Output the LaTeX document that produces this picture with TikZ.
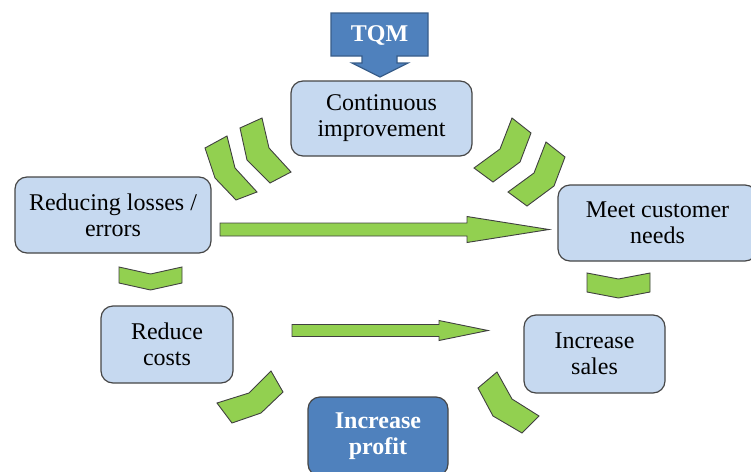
\documentclass[tikz,border=0pt]{standalone}
\usepackage{fontspec}
\setmainfont{LiberationSerif}[BoldFont=LiberationSerif-Bold]
\definecolor{boxfill}{RGB}{198,217,240}
\definecolor{boxline}{RGB}{70,70,70}
\definecolor{tqmblue}{RGB}{79,129,189}
\definecolor{tqmline}{RGB}{56,93,138}
\definecolor{leafgreen}{RGB}{146,208,80}

\begin{document}
\begin{tikzpicture}
[x=1pt,y=-1pt,
 every node/.style={rectangle,rounded corners=12pt,draw=boxline,line width=1.2pt,fill=boxfill,
   align=center,inner sep=0pt,font=\fontsize{24}{26}\selectfont},
 dark/.style={fill=tqmblue,text=white,font=\fontsize{24}{26}\selectfont\bfseries},
 chevron/.style={draw=black!75,fill=leafgreen,line width=0.9pt,line join=miter}]
\useasboundingbox (0,0) rectangle (751,471);

\draw[fill=tqmblue,draw=tqmline,line width=1.2pt,line join=miter]
  (331,13) -- (428,13) -- (428,56) -- (397,56) -- (397,63) -- (408,63) -- (380,77)
  -- (352,63) -- (362,63) -- (362,56) -- (331,56) -- cycle;
\node[dark,draw=none,fill=none] (tqm) at (379.5,35) {TQM};

\node[minimum width=181pt,minimum height=75pt] (cont) at (381.5,118.5) {Continuous\\improvement};
\node[minimum width=196pt,minimum height=76pt] (losses) at (113,215) {Reducing losses /\\errors};
\node[minimum width=199pt,minimum height=76pt] (needs) at (657.5,223) {Meet customer\\needs};
\node[minimum width=132pt,minimum height=77pt] (costs) at (167,344.5) {Reduce\\costs};
\node[minimum width=141pt,minimum height=78pt] (sales) at (594.5,354) {Increase\\sales};
\node[dark,minimum width=140pt,minimum height=79pt] (profit) at (378,436.5) {Increase\\profit};

% chevrons between the boxes
\draw[chevron] (205,148) -- (227,136) -- (235,168) -- (257,192) -- (236,200) -- (215,178) -- cycle;
\draw[chevron] (240,128) -- (262,118) -- (269,148) -- (291,172) -- (270,183) -- (247,160) -- cycle;
\draw[chevron] (512,118) -- (531,133) -- (520,162) -- (493,182) -- (474,168) -- (500,149) -- cycle;
\draw[chevron] (546,142) -- (565,157) -- (554,186) -- (527,206) -- (508,192) -- (534,173) -- cycle;
\draw[chevron] (119,267) -- (150.5,274) -- (182,267) -- (182,283) -- (150.5,290) -- (119,283) -- cycle;
\draw[chevron] (587,273) -- (618.5,279) -- (650,273) -- (650,292) -- (618.5,298) -- (587,292) -- cycle;
\draw[chevron] (217,403) -- (249,393) -- (271,371) -- (283,392) -- (261,413) -- (232,423) -- cycle;
\draw[chevron] (478,388) -- (497,372) -- (512,399) -- (539,416) -- (522,433) -- (493,416) -- cycle;

% block arrows
\draw[chevron] (220,223) -- (467,223) -- (467,216.5) -- (549,229.5) -- (467,242.5) -- (467,236) -- (220,236) -- cycle;
\draw[chevron] (292,324.5) -- (439,324.5) -- (439,320.5) -- (488,330.5) -- (439,340.5) -- (439,336.5) -- (292,336.5) -- cycle;
\end{tikzpicture}
\end{document}
